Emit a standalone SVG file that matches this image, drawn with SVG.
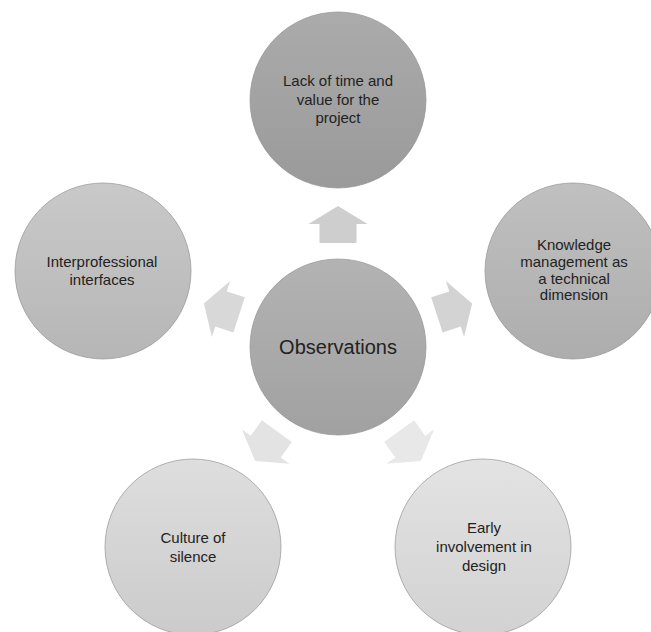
<svg xmlns="http://www.w3.org/2000/svg" width="651" height="632" viewBox="0 0 651 632">
  <defs>
    <linearGradient id="g-top" x1="0" y1="0" x2="0" y2="1"><stop offset="0" stop-color="#ababab"/><stop offset="1" stop-color="#9a9a9a"/></linearGradient>
    <linearGradient id="g-center" x1="0" y1="0" x2="0" y2="1"><stop offset="0" stop-color="#b3b3b3"/><stop offset="1" stop-color="#a1a1a1"/></linearGradient>
    <linearGradient id="g-right" x1="0" y1="0" x2="0" y2="1"><stop offset="0" stop-color="#c0c0c0"/><stop offset="1" stop-color="#adadad"/></linearGradient>
    <linearGradient id="g-left" x1="0" y1="0" x2="0" y2="1"><stop offset="0" stop-color="#c9c9c9"/><stop offset="1" stop-color="#b6b6b6"/></linearGradient>
    <linearGradient id="g-ll" x1="0" y1="0" x2="0" y2="1"><stop offset="0" stop-color="#dedede"/><stop offset="1" stop-color="#cbcbcb"/></linearGradient>
    <linearGradient id="g-lr" x1="0" y1="0" x2="0" y2="1"><stop offset="0" stop-color="#e3e3e3"/><stop offset="1" stop-color="#d2d2d2"/></linearGradient>
    <path id="arrow" d="M-18.5,-104 L-18.5,-123 L-29.5,-123 L0,-141 L29.5,-123 L18.5,-123 L18.5,-104 Z"/>
  </defs>
  <style>
    .node circle { stroke: #949494; stroke-width: 0.7; }
    .node text { font-family: "Liberation Sans", Arial, sans-serif; font-size: 15px; fill: #222; text-anchor: middle; }
    #n-center text { font-size: 20px; }
  </style>
  <g id="connectors" transform="translate(338,347)">
    <use href="#arrow" fill="#cecece"/>
    <use href="#arrow" fill="#d3d3d3" transform="rotate(72)"/>
    <use href="#arrow" fill="#e8e8e8" transform="rotate(144)"/>
    <use href="#arrow" fill="#e3e3e3" transform="rotate(216)"/>
    <use href="#arrow" fill="#d8d8d8" transform="rotate(288)"/>
  </g>
  <g id="n-center" class="node">
    <circle cx="338" cy="347" r="88" fill="url(#g-center)"/>
    <text x="338" y="354">Observations</text>
  </g>
  <g id="n-top" class="node">
    <circle cx="338" cy="100" r="88" fill="url(#g-top)"/>
    <text x="338" y="86">Lack of time and</text>
    <text x="338" y="104.5">value for the</text>
    <text x="338" y="123">project</text>
  </g>
  <g id="n-right" class="node">
    <circle cx="573" cy="271" r="88" fill="url(#g-right)"/>
    <text x="574" y="250">Knowledge</text>
    <text x="574" y="267">management as</text>
    <text x="574" y="283.5">a technical</text>
    <text x="574" y="300">dimension</text>
  </g>
  <g id="n-lower-right" class="node">
    <circle cx="483" cy="547" r="88" fill="url(#g-lr)"/>
    <text x="484" y="533">Early</text>
    <text x="484" y="552">involvement in</text>
    <text x="484" y="571">design</text>
  </g>
  <g id="n-lower-left" class="node">
    <circle cx="193" cy="547" r="88" fill="url(#g-ll)"/>
    <text x="193" y="543">Culture of</text>
    <text x="193" y="562">silence</text>
  </g>
  <g id="n-left" class="node">
    <circle cx="103" cy="271" r="88" fill="url(#g-left)"/>
    <text x="102" y="267">Interprofessional</text>
    <text x="102" y="285">interfaces</text>
  </g>
</svg>
